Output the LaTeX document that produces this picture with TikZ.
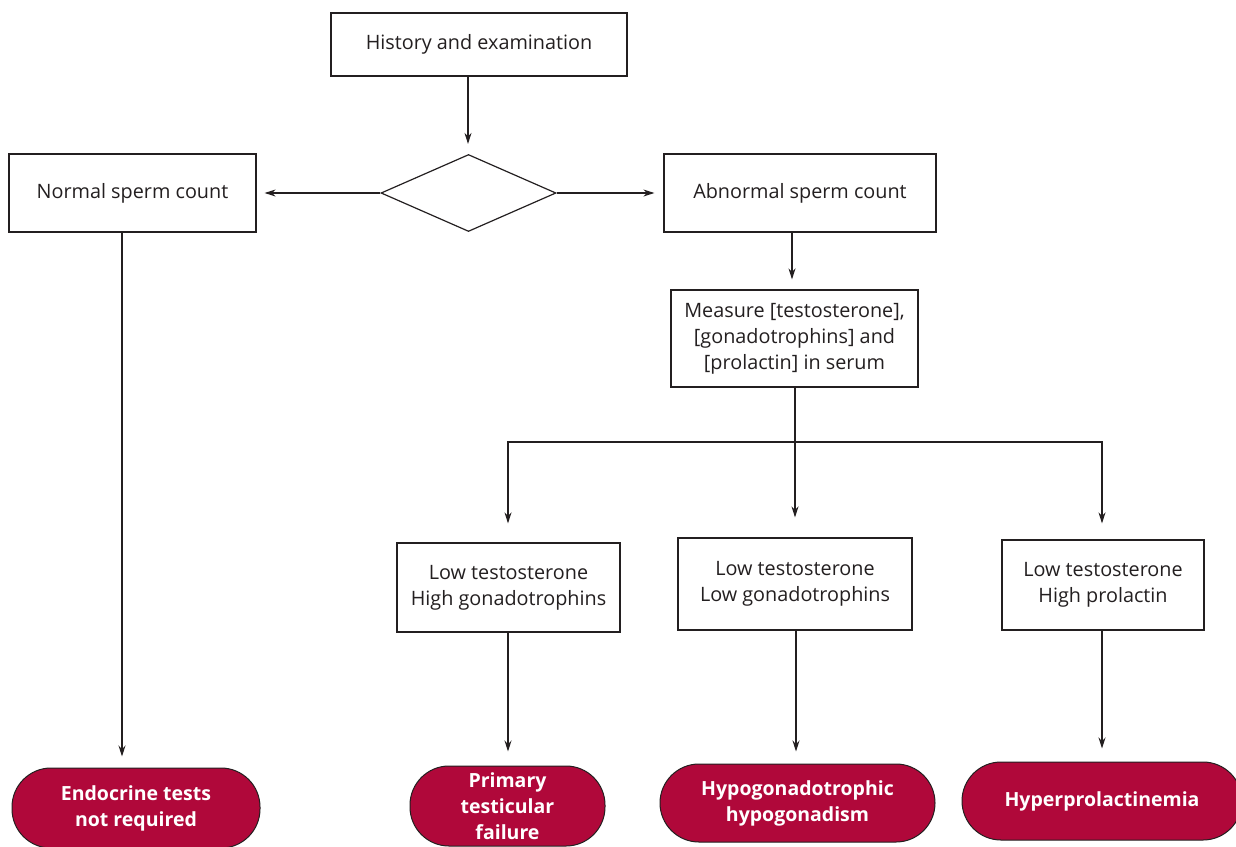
\documentclass[tikz,border=0pt]{standalone}
\usepackage{fontspec}
\setmainfont{Open Sans}
\usetikzlibrary{arrows.meta,shapes.geometric}
\definecolor{termred}{HTML}{B0083A}
\definecolor{ink}{HTML}{231F20}
\tikzset{
  box/.style={draw=ink,line width=1.2pt,fill=white,inner sep=0pt,align=center,text=ink,font=\fontsize{19.8}{26}\selectfont},
  term/.style={draw=ink,line width=1pt,fill=termred,inner sep=0pt,align=center,text=white,font=\fontsize{19.5}{26}\selectfont\bfseries,rounded corners=39pt},
  arr/.style={draw=ink,line width=1.2pt,-{Stealth[length=11pt,width=7pt]}},
  ln/.style={draw=ink,line width=1.2pt}
}
\begin{document}
\begin{tikzpicture}[x=1pt,y=-1pt]
\useasboundingbox (0,0) rectangle (1236,846);
\clip (0,0) rectangle (1236,846);
% boxes
\node[box,minimum width=296pt,minimum height=63pt] (hist) at (479,44.5) {\raisebox{-2pt}{History and examination}};
\node[draw=ink,line width=1.2pt,diamond,inner sep=0pt,minimum width=175pt,minimum height=77pt,aspect=2.27] (dec) at (468.5,193) {};
\node[box,minimum width=247pt,minimum height=78pt] (normal) at (132.5,193) {\raisebox{4pt}{Normal sperm count}};
\node[box,minimum width=272pt,minimum height=78pt] (abn) at (800,193) {Abnormal sperm count};
\node[box,minimum width=247pt,minimum height=97pt] (meas) at (794.5,338.5) {Measure [testosterone],\\{}[gonadotrophins] and\\{}[prolactin] in serum};
\node[box,minimum width=223pt,minimum height=89pt] (lthg) at (508.5,587.5) {Low testosterone\\High gonadotrophins};
\node[box,minimum width=234pt,minimum height=92pt] (ltlg) at (795,584) {Low testosterone\\Low gonadotrophins};
\node[box,minimum width=202pt,minimum height=90pt] (lthp) at (1103,585) {Low testosterone\\High prolactin};
% terminals
\node[term,minimum width=248pt,minimum height=80pt] (endo) at (136,808) {Endocrine tests\\not required};
\node[term,minimum width=195pt,minimum height=80pt] (prim) at (507.5,806) {Primary\\testicular\\failure};
\node[term,minimum width=275pt,minimum height=78pt] (hypo) at (797.5,803) {Hypogonadotrophic\\hypogonadism};
\node[term,minimum width=280pt,minimum height=78pt] (hyper) at (1102,801) {Hyperprolactinemia};
% connectors
\draw[arr,shorten >=10pt] (hist.south -| 468,0) -- (dec.north -| 468,0);
\draw[arr,shorten >=8pt] (dec.west) -- (normal.east);
\draw[arr,shorten >=9pt] (dec.east) -- (abn.west);
\draw[arr,shorten >=11pt] (normal.south -| 122,0) -- (endo.north -| 122,0);
\draw[arr,shorten >=10pt] (abn.south -| 792,0) -- (meas.north -| 792,0);
\coordinate (junc) at (795,442);
\draw[ln] (meas.south -| junc) -- (junc);
\draw[arr,shorten >=20pt] (junc) -- (ltlg.north -| junc);
\draw[arr,shorten >=19pt] (junc) -| (lthg.north -| 508,0);
\draw[arr,shorten >=16pt] (junc) -| (lthp.north -| 1102,0);
\draw[arr,shorten >=14pt] (lthg.south -| 508,0) -- (prim.north -| 508,0);
\draw[arr,shorten >=12pt] (ltlg.south -| 796,0) -- (hypo.north -| 796,0);
\draw[arr,shorten >=13pt] (lthp.south -| 1102,0) -- (hyper.north -| 1102,0);
\end{tikzpicture}
\end{document}
